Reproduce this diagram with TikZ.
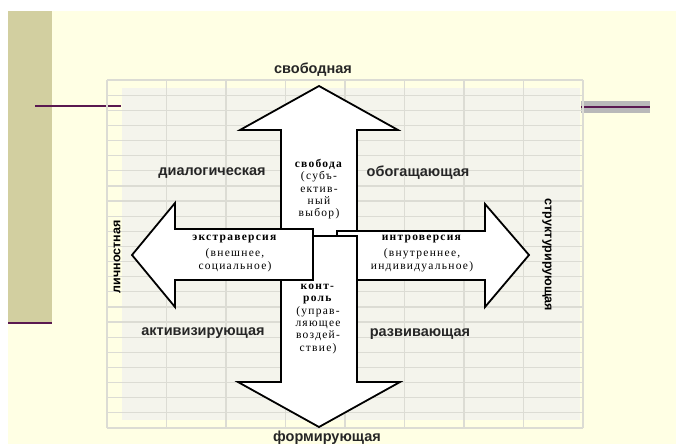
\documentclass[tikz,border=0pt]{standalone}
\usepackage{fontspec}
\setmainfont{Liberation Serif}
\setsansfont{Liberation Sans}
\usetikzlibrary{positioning}

\definecolor{cream}{RGB}{255,255,228}
\definecolor{olivebar}{RGB}{210,207,160}
\definecolor{plum}{RGB}{90,25,80}
\definecolor{gridgray}{RGB}{220,220,212}
\definecolor{cellfill}{RGB}{244,244,236}

\tikzset{
  blockarrow/.style={draw=black, fill=white, line width=1.8pt, line join=miter},
  sidelabel/.style={font=\sffamily\bfseries\fontsize{14.5}{16}\selectfont, text=black!85, inner sep=0pt},
  edgelabel/.style={font=\sffamily\bfseries\fontsize{12.5}{14}\selectfont, inner sep=0pt},
  arrowtext/.style={font=\fontsize{11.5}{12.3}\selectfont\addfontfeature{LetterSpace=11}, align=center, inner sep=0pt},
}

\begin{document}
\begin{tikzpicture}[x=1pt, y=-1pt]
    \useasboundingbox (0,0) rectangle (676,444);
    % page background
    \fill[cream] (8,11) rectangle (676,444);
    \fill[olivebar] (8,11) rectangle (52,323);
    \draw[plum, line width=2pt] (8,323) -- (52,323);
    \draw[plum, line width=1.2pt] (35,106) -- (121,106);
    \fill[gray!55] (581,101) rectangle (650,113);
    \draw[plum, line width=1.2pt] (581,107) -- (650,107);

    % table grid
    \fill[cellfill] (122,88) rectangle (580,420);
    \foreach \j in {0,...,23} {
        \draw[gridgray, line width=1.2pt] (107,{80+15.13*\j}) -- (583,{80+15.13*\j});
    }
    \foreach \i in {0,...,8} {
        \draw[gridgray, line width=1.2pt] ({107+59.5*\i},80) -- ({107+59.5*\i},428);
    }

    % up arrow
    \draw[blockarrow] (281,236) -- (281,130) -- (240,130) -- (319,86) -- (398,130) -- (357,130) -- (357,236) -- cycle;
    % right arrow
    \draw[blockarrow] (337,231) -- (485,231) -- (485,204) -- (529,255) -- (485,307) -- (485,280) -- (337,280) -- cycle;
    % down arrow
    \draw[blockarrow] (281,236) -- (357,236) -- (357,382) -- (400,382) -- (319,427) -- (238,382) -- (281,382) -- cycle;
    % left arrow
    \draw[blockarrow] (313,229) -- (175,229) -- (175,203) -- (132,255) -- (175,307) -- (175,280) -- (313,280) -- cycle;

    % texts in arrows
    \node[arrowtext, anchor=north] (freedom) at (319,159) {\textbf{свобода}\\(субъ-\\ектив-\\ный\\выбор)};
    \node[arrowtext, anchor=north] (extra) at (235,235) {\textbf{экстраверсия}\\[4pt](внешнее,\\социальное)};
    \node[arrowtext, anchor=north] (intro) at (422,235) {\textbf{интроверсия}\\[4pt](внутреннее,\\индивидуальное)};
    \node[arrowtext, anchor=north] (control) at (318,284) {\textbf{конт-}\\\textbf{роль}\\(управ-\\ляющее\\воздей-\\ствие)};

    % labels around
    \node[sidelabel] (free) at (313,70) {свободная};
    \node[sidelabel] (form) at (327,438) {формирующая};
    \node[sidelabel] (dialog) at (212,173) {диалогическая};
    \node[sidelabel] (enrich) at (418,173) {обогащающая};
    \node[sidelabel] (activ) at (203,333) {активизирующая};
    \node[sidelabel] (develop) at (420,334) {развивающая};
    \node[edgelabel, rotate=90] (person) at (117,257) {личностная};
    \node[edgelabel, rotate=-90] (struct) at (547,255) {структурирующая};
\end{tikzpicture}
\end{document}
